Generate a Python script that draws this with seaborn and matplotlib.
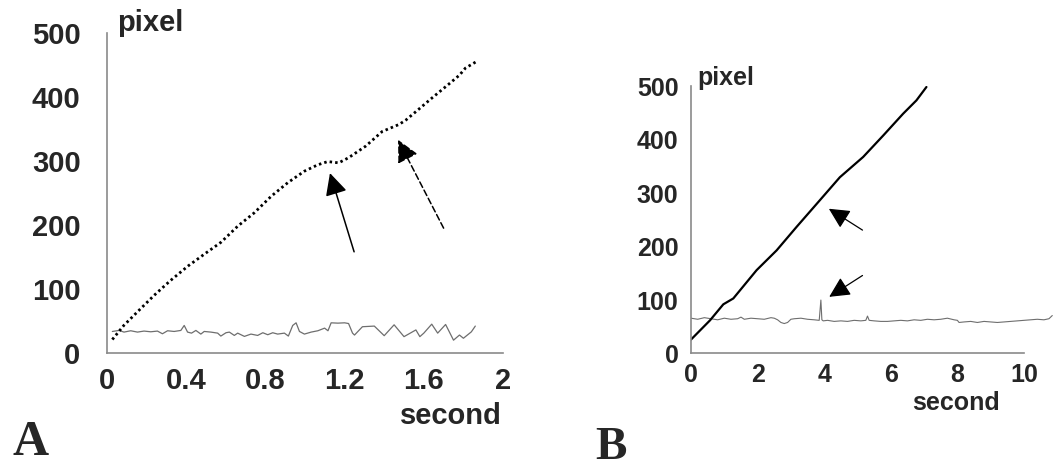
import numpy as np
import pandas as pd
import matplotlib
matplotlib.use("Agg")
import matplotlib.pyplot as plt
import seaborn as sns

# panel A : position du point suivi (pointillé) et bruit de fond (gris)
a_track_x = [0.027, 0.085, 0.153, 0.238, 0.32, 0.41, 0.49, 0.576, 0.66, 0.744, 0.83, 0.913,
             0.997, 1.065, 1.115, 1.17, 1.22, 1.306, 1.39, 1.475, 1.51, 1.56, 1.64, 1.73,
             1.78, 1.81, 1.87]
a_track_y = [21, 43, 64, 90, 113, 136, 154, 173, 198, 219, 245, 266,
             284, 294, 299, 297, 305, 323, 346, 357, 364, 377, 398, 421,
             434, 445, 456]

a_noise_x = [0.027, 0.061, 0.086, 0.12, 0.154, 0.187, 0.221, 0.255, 0.28, 0.306, 0.339, 0.373,
             0.39, 0.407, 0.427, 0.449, 0.474, 0.491, 0.525, 0.559, 0.575, 0.601, 0.618, 0.643,
             0.66, 0.694, 0.727, 0.761, 0.787, 0.812, 0.837, 0.862, 0.896, 0.916, 0.938, 0.955,
             0.972, 0.997, 1.031, 1.065, 1.099, 1.116, 1.132, 1.166, 1.2, 1.22, 1.24, 1.25,
             1.29, 1.35, 1.40, 1.45, 1.50, 1.56, 1.58, 1.60, 1.64, 1.67, 1.71, 1.75,
             1.78, 1.80, 1.84, 1.86]
a_noise_y = [33.6, 35.2, 32.6, 34.7, 32.6, 34.2, 33.1, 34.2, 30, 34.7, 33.6, 35.2,
             43, 32.6, 31, 35.2, 29.5, 33.6, 32.6, 31, 26.4, 31.6, 32.6, 27.4,
             31, 25.9, 29.5, 27.4, 31.6, 28.5, 31.6, 29.5, 31, 26.4, 43, 47.1,
             33.6, 29.5, 32.6, 34.7, 38.8, 34.7, 47.1, 46.6, 47.1, 46, 31, 28,
             41, 42, 27, 44, 25.5, 36, 25.5, 31, 45, 31, 44.5, 20,
             28, 23, 33, 42]

# panel B
b_track_x = [0, 0.57, 0.97, 1.27, 1.97, 2.57, 3.17, 3.87, 4.47, 5.17, 5.77, 6.37, 6.77, 7.07]
b_track_y = [26, 62, 92, 103, 156, 193, 237, 287, 330, 368, 408, 449, 474, 499]

b_noise_x = [0, 0.2, 0.4, 0.6, 0.8, 1.0, 1.2, 1.4, 1.5, 1.6, 1.8, 2.0, 2.2, 2.4, 2.5,
             2.6, 2.7, 2.8, 2.9, 3.0, 3.1, 3.3, 3.5, 3.7, 3.85, 3.9, 3.93, 3.97, 4.1, 4.3,
             4.5, 4.7, 4.9, 5.1, 5.25, 5.3, 5.35, 5.5, 5.7, 5.9, 6.1, 6.3, 6.5, 6.7, 6.9,
             7.1, 7.3, 7.5, 7.7, 7.9, 8.0, 8.05, 8.2, 8.4, 8.6, 8.8, 9.0, 9.2, 9.4, 9.6,
             9.8, 10.0, 10.2, 10.4, 10.6, 10.75, 10.85]
b_noise_y = [66, 64, 67, 65, 63, 66, 64, 65, 68, 64, 66, 65, 64, 67, 66,
             63, 58, 56, 58, 64, 65, 66, 64, 63, 62, 100, 63, 61, 62, 60,
             61, 60, 62, 61, 62, 70, 62, 61, 60, 60, 61, 62, 61, 63, 62,
             64, 63, 64, 66, 63, 62, 58, 59, 60, 58, 60, 59, 58, 59, 60,
             61, 62, 63, 64, 63, 65, 71]

a_xticks = [0, 0.4, 0.8, 1.2, 1.6, 2]
a_xlabels = ["0", "0.4", "0.8", "1.2", "1.6", "2"]
b_xticks = [0, 2, 4, 6, 8, 10]
y_ticks = [0, 100, 200, 300, 400, 500]

sns.set_style("white")
plt.rcParams["font.family"] = ["Liberation Sans", "DejaVu Sans"]

fig = plt.figure(figsize=(10.55, 4.7), dpi=100)
axA = fig.add_axes([0.1014, 0.249, 0.3754, 0.681])
axB = fig.add_axes([0.655, 0.248, 0.344, 0.568])

spine_col = "#8a8a8a"
noise_col = "#6e6e6e"
head = "-|>,head_length=0.9,head_width=0.45"

# --- A
sns.lineplot(x=a_noise_x, y=a_noise_y, ax=axA, color=noise_col, lw=0.9, sort=False)
sns.lineplot(x=a_track_x, y=a_track_y, ax=axA, color="black", lw=2.0,
             linestyle=(0, (0.9, 1.1)), sort=False)
axA.set_xlim(0, 2)
axA.set_ylim(0, 500)
axA.set_xticks(a_xticks)
axA.set_xticklabels(a_xlabels)
axA.set_yticks(y_ticks)
axA.tick_params(axis="y", labelsize=21, pad=17, length=2, color=spine_col, width=1)
axA.tick_params(axis="x", labelsize=21, pad=8, length=2, color=spine_col, width=1)
axA.annotate("", xy=(1.126, 281), xytext=(1.248, 158),
             arrowprops=dict(arrowstyle=head, color="black", lw=1.1,
                             mutation_scale=15, shrinkA=0, shrinkB=0))
axA.annotate("", xy=(1.47, 333), xytext=(1.70, 195),
             arrowprops=dict(arrowstyle=head, color="black", lw=1.1, ls=(0, (4, 2)),
                             mutation_scale=15, shrinkA=0, shrinkB=0))

# --- B
sns.lineplot(x=b_noise_x, y=b_noise_y, ax=axB, color=noise_col, lw=0.8, sort=False)
sns.lineplot(x=b_track_x, y=b_track_y, ax=axB, color="black", lw=1.6, sort=False)
axB.set_xlim(0, 10.9)
axB.set_ylim(0, 500)
axB.set_xticks(b_xticks)
axB.set_yticks(y_ticks)
axB.spines["bottom"].set_bounds(0, 10)
axB.tick_params(axis="y", labelsize=18, pad=7, length=2, color=spine_col, width=1)
axB.tick_params(axis="x", labelsize=18, pad=5, length=2, color=spine_col, width=1)
axB.annotate("", xy=(4.14, 271), xytext=(5.15, 231),
             arrowprops=dict(arrowstyle=head, color="black", lw=0.9,
                             mutation_scale=14, shrinkA=0, shrinkB=0))
axB.annotate("", xy=(4.15, 106), xytext=(5.15, 146),
             arrowprops=dict(arrowstyle=head, color="black", lw=0.9,
                             mutation_scale=14, shrinkA=0, shrinkB=0))

for ax in (axA, axB):
    sns.despine(ax=ax)
    for s in ("left", "bottom"):
        ax.spines[s].set_color(spine_col)
        ax.spines[s].set_linewidth(1.2)
    for lab in ax.get_xticklabels() + ax.get_yticklabels():
        lab.set_fontweight("bold")
    ax.set_xlabel("")
    ax.set_ylabel("")

fig.text(0.111, 0.951, "pixel", fontsize=21, fontweight="bold", ha="left", va="center")
fig.text(0.476, 0.115, "second", fontsize=21, fontweight="bold", ha="right", va="center")
fig.text(0.661, 0.834, "pixel", fontsize=18, fontweight="bold", ha="left", va="center")
fig.text(0.948, 0.143, "second", fontsize=18, fontweight="bold", ha="right", va="center")
fig.text(0.012, 0.032, "A", fontsize=36, fontweight="bold", family="Liberation Serif",
         ha="left", va="baseline")
fig.text(0.564, 0.024, "B", fontsize=34, fontweight="bold", family="Liberation Serif",
         ha="left", va="baseline")

fig.savefig("out.png", dpi=100)
